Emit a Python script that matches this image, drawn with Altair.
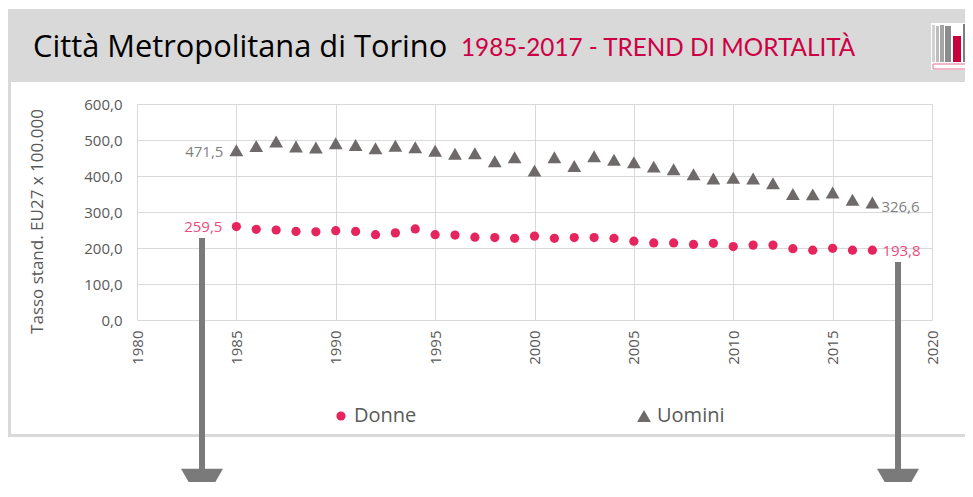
import altair as alt
import pandas as pd

# ---------------- data ----------------
years = list(range(1985, 2018))
donne = [259.5, 252, 250, 246, 245, 248, 246, 237, 242, 253,
         237, 236, 230, 229, 227, 233, 227, 229, 229, 227,
         219, 214, 214, 210, 213, 204, 208, 208, 198, 194,
         199, 194, 193.8]
uomini = [471.5, 483, 496, 482, 479, 491, 486, 477, 484, 480,
          470, 462, 463, 441, 452, 415, 452, 428, 455, 445,
          438, 426, 419, 405, 393, 395, 393, 380, 350, 349,
          354, 334, 326.6]
series_names = ["Donne", "Uomini"]
x_ticks = [1980, 1985, 1990, 1995, 2000, 2005, 2010, 2015, 2020]
y_ticks = [0, 100, 200, 300, 400, 500, 600]
title_main = "Città Metropolitana di Torino"
title_sub = "1985-2017 - TREND DI MORTALITÀ"
y_title = "Tasso stand. EU27 x 100.000"

# ---------------- style ----------------
PINK = "#e6245e"
PINK_LAB = "#ec4a7c"
GRAY = "#6e6a69"
GRAY_LAB = "#7f7f7f"
TXT = "#595959"
GRID = "#d9d9d9"
BAND = "#d9d9d9"
RED = "#cc0044"
ARROW = "#7a7a7a"
FONT = "Open Sans"

df = pd.DataFrame({
    "anno": years * 2,
    "valore": donne + uomini,
    "sesso": ["Donne"] * len(years) + ["Uomini"] * len(years),
})
one = pd.DataFrame({"k": [0]})

W, H = 795, 216

x_enc = alt.X("anno:Q",
              scale=alt.Scale(domain=[1980, 2020], nice=False, zero=False),
              axis=alt.Axis(values=x_ticks, format="d", labelAngle=-90, title=None,
                            grid=True, gridColor=GRID, ticks=False, tickSize=0,
                            domain=False, labelPadding=10, labelFontSize=15,
                            labelFont=FONT, labelColor=TXT))
y_enc = alt.Y("valore:Q",
              scale=alt.Scale(domain=[0, 600], nice=False),
              axis=alt.Axis(values=y_ticks,
                            labelExpr="replace(format(datum.value, '.1f'), '.', ',')",
                            title=y_title, titleFont=FONT, titleFontSize=17,
                            titleFontWeight="normal", titleColor=TXT,
                            titleX=-95, titleY=117, titleAlign="center",
                            titleBaseline="alphabetic", titleAngle=270,
                            grid=True, gridColor=GRID, ticks=False, tickSize=0,
                            domain=False, labelPadding=15, labelFontSize=15,
                            labelFont=FONT, labelColor=TXT))


def rect(x, x2, y, y2, color, **kw):
    return alt.Chart(one).mark_rect(color=color, **kw).encode(
        x=alt.value(x), x2=alt.value(x2), y=alt.value(y), y2=alt.value(y2))


# background decorations (plot-relative pixels)
band = rect(-140, 840, -95, -22, BAND)
left_border = rect(-129, -126, -22, 333, BAND)
bottom_border = rect(-129, 840, 330, 333, BAND)

# logo
logo = [
    rect(794, 836, -81, -34, "white"),
    rect(795, 798, -79, -42, "#d2d2d2"),
    rect(799, 802, -78, -42, "#bdbdbd"),
    rect(803, 807, -79, -42, "#a5a5a5"),
    rect(808, 814, -78, -42, "#8c8c8c"),
    rect(816, 824, -68, -42, "#c8003c"),
    rect(826, 836, -80, -42, "#7d7d7d"),
    rect(796, 836, -40, -35, "white", stroke="#e07090", strokeWidth=1),
]

title1 = alt.Chart(one).mark_text(
    text=title_main, align="left", baseline="alphabetic", font="Open Sans",
    fontSize=30.8, color="black").encode(x=alt.value(-104), y=alt.value(-47.5))
title2 = alt.Chart(one).mark_text(
    text=title_sub, align="left", baseline="alphabetic", font="Lato",
    fontSize=24.25, color=RED).encode(x=alt.value(324), y=alt.value(-48))

legend = alt.Legend(title=None, orient="none", legendX=194, legendY=302,
                    direction="horizontal", labelFontSize=20, labelColor=TXT,
                    labelFont=FONT, symbolSize=100, columnPadding=217,
                    labelOffset=3, symbolStrokeWidth=0)

points = alt.Chart(df).mark_point(filled=True, opacity=1).encode(
    x=x_enc, y=y_enc,
    color=alt.Color("sesso:N", scale=alt.Scale(domain=series_names, range=[PINK, GRAY]),
                    legend=legend),
    shape=alt.Shape("sesso:N", scale=alt.Scale(domain=series_names,
                                                range=["circle", "triangle-up"]),
                    legend=legend),
    size=alt.Size("sesso:N", scale=alt.Scale(domain=series_names, range=[85, 190]),
                  legend=None),
)

lab_base = alt.Chart(df).transform_calculate(
    lab="replace(format(datum.valore, '.1f'), '.', ',')")


def label(year, sex, align, dx, dy, color):
    return lab_base.transform_filter(
        f"datum.anno == {year} && datum.sesso == '{sex}'"
    ).mark_text(align=align, baseline="middle", dx=dx, dy=dy, fontSize=15,
                font=FONT, color=color).encode(x=x_enc, y=y_enc, text="lab:N")


labels = [
    label(1985, "Uomini", "right", -13, 2, GRAY_LAB),
    label(1985, "Donne", "right", -14, 0, PINK_LAB),
    label(2017, "Uomini", "left", 9, 5, GRAY_LAB),
    label(2017, "Donne", "left", 10, 1, PINK_LAB),
]


def arrow(x, y_top):
    shaft = alt.Chart(one).mark_rule(color=ARROW, strokeWidth=6).encode(
        x=alt.value(x), y=alt.value(y_top), y2=alt.value(372))
    head = alt.Chart(one).mark_point(shape="triangle-down", filled=True, size=1764,
                                     color=ARROW, opacity=1).encode(
        x=alt.value(x), y=alt.value(383))
    return [shaft, head]


chart = alt.layer(
    band, left_border, bottom_border, *logo, title1, title2,
    points, *labels, *arrow(65, 134), *arrow(761, 158)
).properties(
    width=W, height=H,
    padding={"left": 129, "top": 96, "right": 33, "bottom": 162},
    autosize=alt.AutoSizeParams(type="none"),
    background="white",
).configure_view(stroke=None)

chart.save("out.html", embed_options={"renderer": "svg", "actions": False})
